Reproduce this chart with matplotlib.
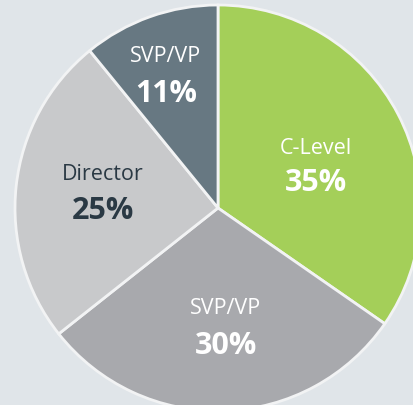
import matplotlib
matplotlib.use("Agg")
import matplotlib.pyplot as plt

categories = ["C-Level", "SVP/VP", "Director", "SVP/VP"]
values = [35, 30, 25, 11]
pct_labels = ["35%", "30%", "25%", "11%"]

colors = ["#a4cf59", "#a8a9ad", "#c8c9cb", "#677882"]
text_colors = ["white", "white", "#2a3944", "white"]
label_pos = [(316, 149, 183), (226, 308, 346), (103, 175, 211), (166, 57, 94)]

W, H = 414, 405
fig = plt.figure(figsize=(W / 100, H / 100), dpi=100)
fig.patch.set_facecolor("#e0e5e9")
ax = fig.add_axes([0, 0, 1, 1])
ax.set_facecolor("#e0e5e9")

ax.pie(values, colors=colors, startangle=90, counterclock=False,
       center=(218, H - 208), radius=203,
       wedgeprops=dict(edgecolor="#f2f3f4", linewidth=2))
ax.set_xlim(0, W)
ax.set_ylim(0, H)
ax.set_aspect("auto")
ax.axis("off")

for cat, pct, tc, (x, y1, y2) in zip(categories, pct_labels, text_colors, label_pos):
    ax.text(x, H - y1, cat, ha="center", va="center", fontsize=15.5,
            family="Open Sans", color=tc)
    ax.text(x, H - y2, pct, ha="center", va="center", fontsize=22,
            family="Open Sans", fontweight="bold", color=tc)

fig.savefig("out.png", dpi=100, facecolor=fig.get_facecolor())
